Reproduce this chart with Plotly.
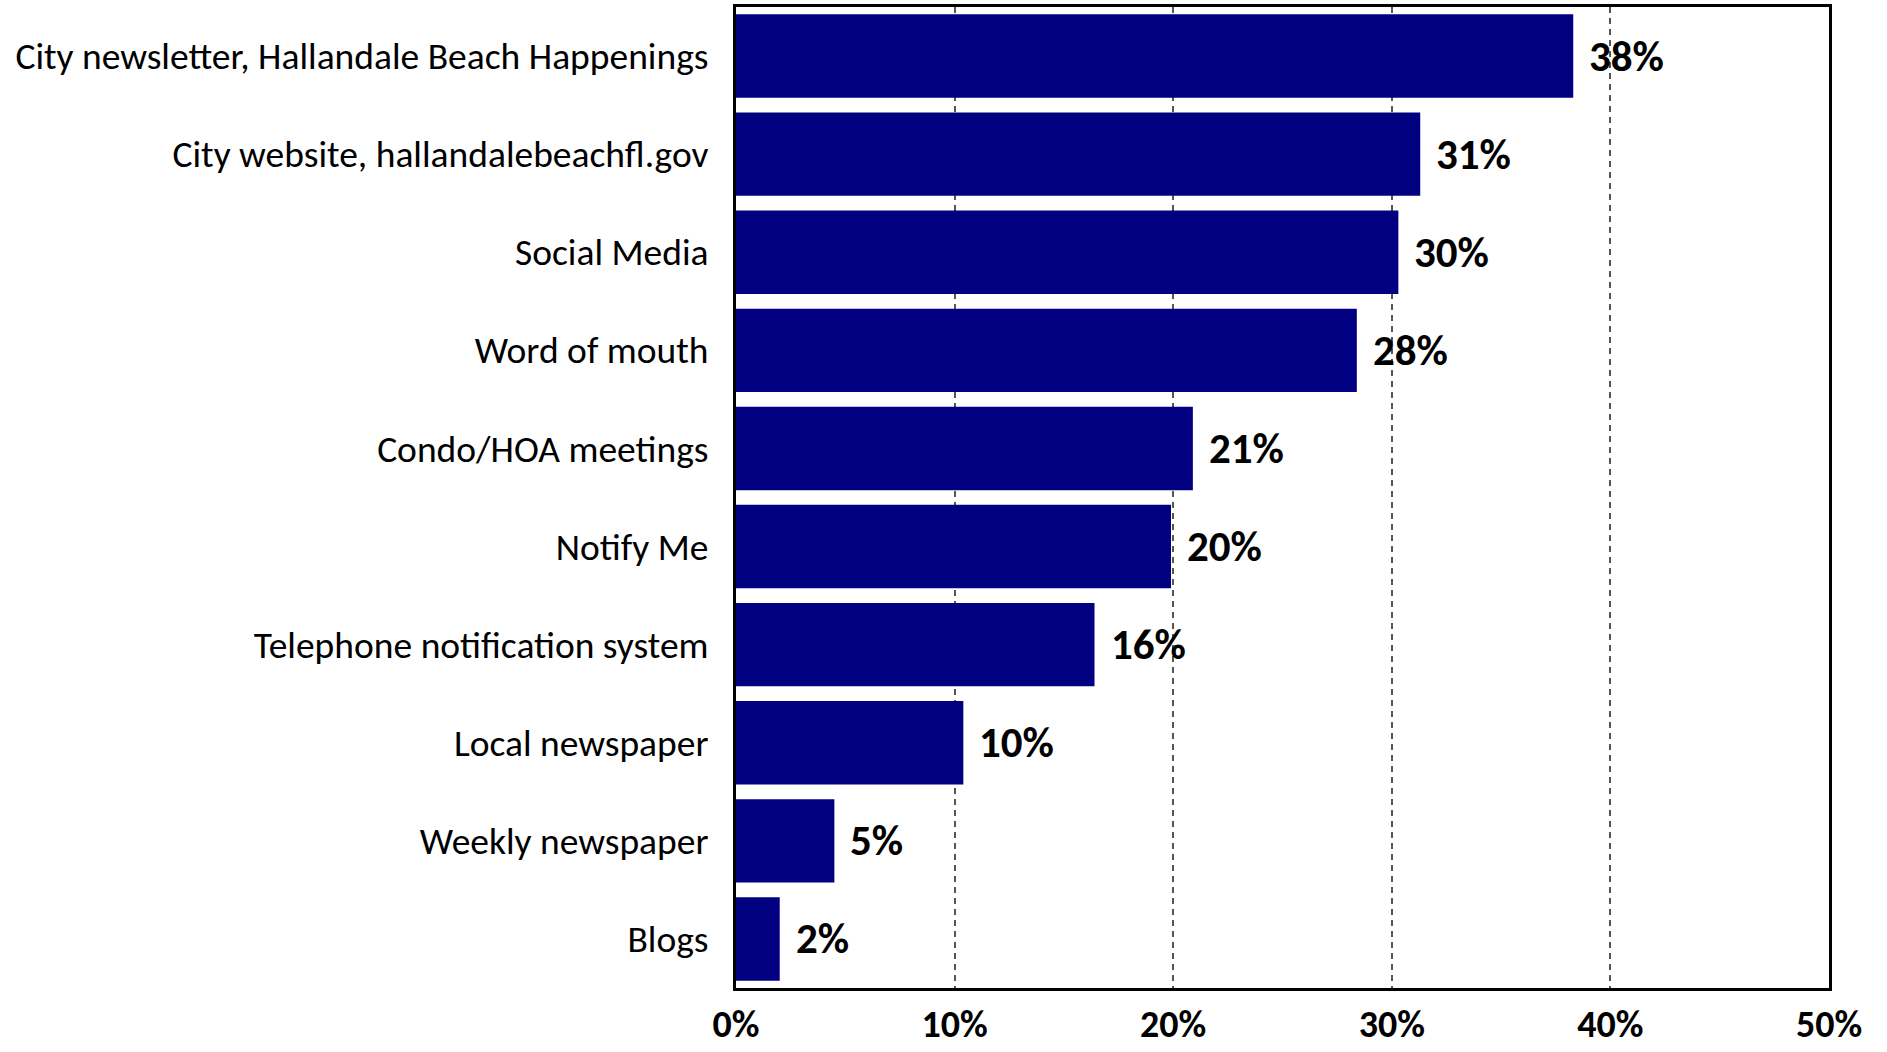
import plotly.graph_objects as go

categories = [
    "City newsletter, Hallandale Beach Happenings",
    "City website, hallandalebeachfl.gov",
    "Social Media",
    "Word of mouth",
    "Condo/HOA meetings",
    "Notify Me",
    "Telephone notification system",
    "Local newspaper",
    "Weekly newspaper",
    "Blogs",
]
values = [38.3, 31.3, 30.3, 28.4, 20.9, 19.9, 16.4, 10.4, 4.5, 2.0]
value_labels = ["38%", "31%", "30%", "28%", "21%", "20%", "16%", "10%", "5%", "2%"]
tick_vals = [0, 10, 20, 30, 40, 50]
tick_text = ["0%", "10%", "20%", "30%", "40%", "50%"]

FONT = "Carlito, Lato, 'Open Sans', sans-serif"

fig = go.Figure()
fig.add_trace(go.Bar(
    x=values,
    y=categories,
    orientation="h",
    marker=dict(color="#000080", line=dict(width=0)),
    width=0.85,
    hoverinfo="skip",
))

for v, c, t in zip(values, categories, value_labels):
    fig.add_annotation(
        x=v, y=c, xref="x", yref="y", text="<b>%s</b>" % t,
        showarrow=False, xanchor="left", yanchor="middle", xshift=14,
        font=dict(family=FONT, size=43, color="black"),
    )

fig.update_layout(
    width=1887,
    height=1052,
    margin=dict(l=736, r=58, t=7, b=64, pad=0),
    plot_bgcolor="white",
    paper_bgcolor="white",
    showlegend=False,
    bargap=0.15,
    font=dict(family=FONT, color="black"),
)
fig.update_xaxes(
    range=[0, 50],
    tickvals=tick_vals,
    ticktext=["<b>%s</b>" % t for t in tick_text],
    tickfont=dict(family=FONT, size=38, color="black"),
    showgrid=True,
    gridcolor="#555555",
    griddash="6px,5px",
    gridwidth=1.5,
    zeroline=False,
    showline=True,
    linecolor="black",
    linewidth=3,
    mirror=True,
    ticks="",
    ticklabelstandoff=0,
    automargin=False,
    fixedrange=True,
)
fig.update_yaxes(
    categoryorder="array",
    categoryarray=categories[::-1],
    tickfont=dict(family=FONT, size=37.5, color="black"),
    showgrid=False,
    zeroline=False,
    showline=True,
    linecolor="black",
    linewidth=3,
    mirror=True,
    ticks="",
    ticklabelstandoff=17,
    automargin=False,
    fixedrange=True,
)

fig.write_html(
    "out.html",
    config={"displayModeBar": False},
    post_script="document.body.style.margin='0';document.body.style.overflow='hidden';",
)
